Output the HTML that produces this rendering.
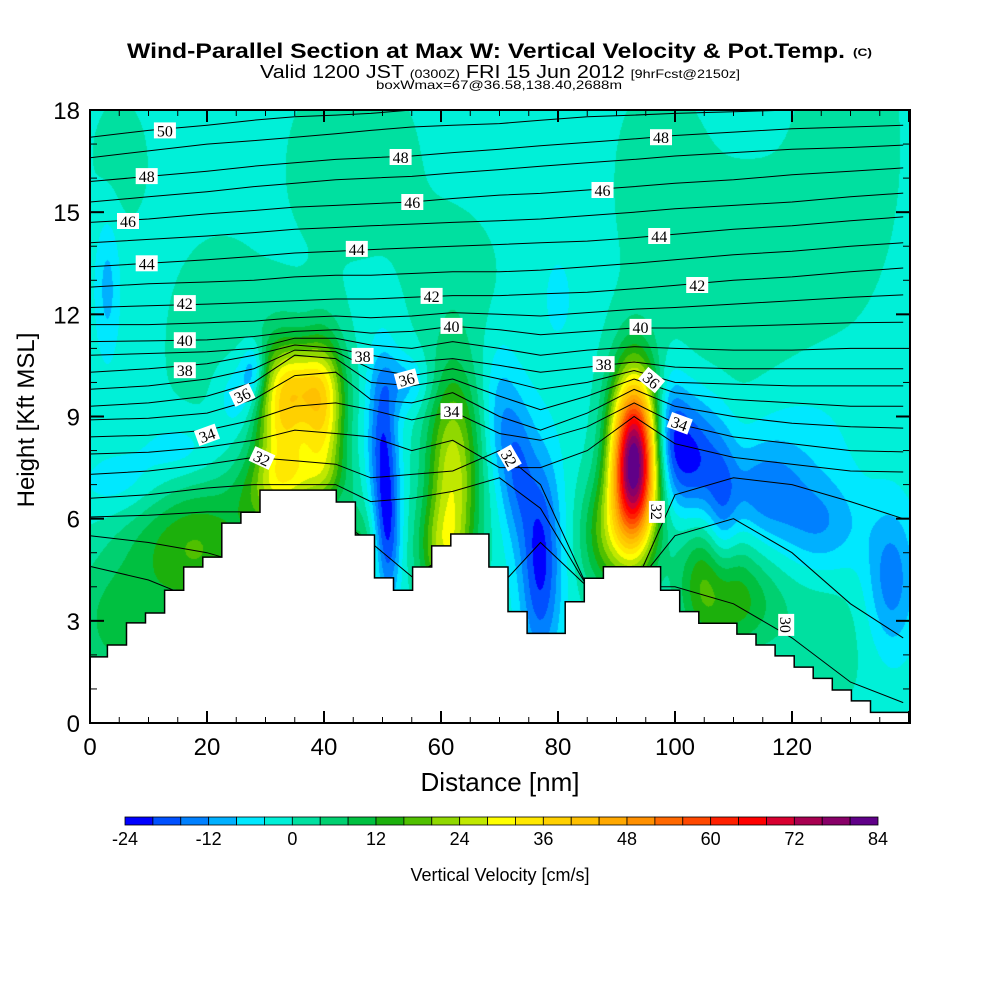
<!DOCTYPE html>
<html><head><meta charset="utf-8">
<style>
html,body{margin:0;padding:0;background:#fff;width:1000px;height:1000px;overflow:hidden}
#wrap{position:relative;width:1000px;height:1000px}
#field{position:absolute;left:90px;top:110px}
#over{position:absolute;left:0;top:0}
text{font-family:"Liberation Sans",sans-serif}
.cl{font-family:"Liberation Serif",serif;font-size:16px}
</style></head>
<body>
<div id="wrap">
<canvas id="field" width="820" height="613"></canvas>
<svg id="over" width="1000" height="1000" xmlns="http://www.w3.org/2000/svg">
<defs><clipPath id="pc"><rect x="90" y="110" width="820" height="613"/></clipPath></defs>
<text x="127" y="58" font-size="21" font-weight="bold" textLength="718" lengthAdjust="spacingAndGlyphs">Wind-Parallel Section at Max W: Vertical Velocity &amp; Pot.Temp.</text>
<text x="853" y="56" font-size="11" font-weight="bold" textLength="19" lengthAdjust="spacingAndGlyphs">(C)</text>
<text x="260" y="78" font-size="18" textLength="480" lengthAdjust="spacingAndGlyphs">Valid 1200 JST <tspan font-size="12">(0300Z)</tspan> FRI 15 Jun 2012 <tspan font-size="12">[9hrFcst@2150z]</tspan></text>
<text x="376" y="89" font-size="12" textLength="246" lengthAdjust="spacingAndGlyphs">boxWmax=67@36.58,138.40,2688m</text>
<g id="contours" clip-path="url(#pc)"></g>
<g id="terrain"></g>
<g id="clabels"></g>
<rect x="90" y="110" width="820" height="613" fill="none" stroke="#000" stroke-width="2"/>
<g id="ticks"></g>
<g id="xlabels"></g>
<g id="ylabels"></g>
<text x="500" y="791" font-size="26" text-anchor="middle">Distance [nm]</text>
<text transform="translate(34,420) rotate(-90)" font-size="24" text-anchor="middle">Height [Kft MSL]</text>
<g id="cbar"></g>
<text x="500" y="881" font-size="18" text-anchor="middle">Vertical Velocity [cm/s]</text>
</svg>
</div>
<script>
// ---- data ----
const xTicks=[0,20,40,60,80,100,120];
const yTicks=[0,3,6,9,12,15,18];
const cbarLabels=[-24,-12,0,12,24,36,48,60,72,84];
const palette=["#0000ff","#0050ff","#0080ff","#00b0ff","#00e8ff","#00f0d8","#00e0a0","#00d070","#00c040","#1cb00c","#50c000","#90d800","#c0e800","#ffff00","#ffe800","#ffd000","#ffc000","#ffa800","#ff9000","#ff6800","#ff4800","#ff2000","#ff0000","#d80030","#a80050","#880068","#600088"];
const wBase=-1.5;
const blobX=[45,62,97,112,130,22,5,3,80,5,16,26,28,6,20,30,12,33,40,36,36,50,51,54,46,62,60,70,77,73,93,88,99,103,108,115,125,137,106,112,125,120];
const blobY=[16.5,13,16,12,17,11,16.5,12.8,12.5,7,8,9.6,10.4,3,5,6.5,5.5,8.8,9.0,10,7.2,8.2,5.5,10,5,7.3,5,9,4.8,7.5,7.6,5.5,8.5,7.8,6,6.8,5.8,4.2,4.2,3.5,2.5,8.5];
const blobAmp=[4,3.5,4,4.5,4,3.5,3,-8,-4,-5,-6,-10,-12,12,14,10,6,33,30,14,10,-17,-15,-8,12,28,14,-8,-20,-12,86,16,-15,-19,-13,-12,-10,-13,18,10,4,-5];
const blobSx=[8,6,5,10,6,7,4,1.5,2,5,5,3,1.5,7,6,4,6,3.5,2.6,4,5,1.8,1.5,3,2,3.2,3,2,2.5,2,2.8,3,2,3,2,5,5,3,4,5,6,8];
const blobSy=[2,1.5,2,3,3,2.5,1.5,1.5,1,0.7,0.7,0.8,0.6,1.5,1.5,0.8,1,1.6,1.6,0.8,0.6,1.8,1.5,0.6,1,2.2,1,1.5,2.2,1.5,1.8,1.2,1.2,1.3,1.8,1,1,1.5,1.4,1,1.5,1.5];
const thetaX=[0,10,20,28,35,42,48,55,62,70,77,85,93,100,110,120,130,139];
const thetaLevels=[28,29,30,31,32,33,34,35,36,37,38,39,40,41,42,43,44,45,46,47,48,49,50];
const thetaH=[
[4.6,4.2,3.5,2.5,-1,-1,-1,-1,-1,-1,-1,-1,-1,-1,-1,-1,-1,-1],
[5.5,5.3,5.0,4.6,3.5,-1,-1,-1,-1,-1,-1,-1,-1,-1,-1,-1,-1,-1],
[6.05,6.1,6.2,6.2,6.1,6.0,5.3,4.3,5.0,4.0,5.3,4.0,4.0,4.0,3.5,2.5,1.2,0.6],
[6.6,6.7,6.9,7.0,7.0,7.0,6.5,6.6,6.8,7.2,6.3,4.0,4.0,5.5,6.0,5.0,3.5,2.5],
[7.3,7.4,7.6,7.8,7.7,7.6,7.2,7.3,7.4,8.0,7.0,4.0,4.0,6.7,7.2,7.0,6.5,6.0],
[7.9,7.95,8.1,8.3,8.6,8.5,8.4,8.0,8.3,7.5,7.5,8.0,9.0,8.2,7.8,7.6,7.4,7.37],
[8.4,8.45,8.6,8.9,9.3,9.4,9.2,8.9,9.15,8.5,8.3,8.7,9.4,8.8,8.4,8.2,8.0,7.96],
[8.9,8.95,9.1,9.5,10.2,10.3,9.5,9.4,9.7,9.0,8.6,9.1,9.8,9.3,9.0,8.8,8.7,8.66],
[9.3,9.4,9.6,10.0,10.8,10.7,10.0,9.9,10.1,9.6,9.2,9.6,10.1,9.7,9.5,9.4,9.3,9.3],
[9.8,9.9,10.1,10.4,10.95,10.9,10.4,10.2,10.4,10.1,9.8,10.0,10.35,10.0,9.95,9.9,9.9,9.9],
[10.3,10.4,10.55,10.8,11.1,11.0,10.8,10.6,10.7,10.5,10.3,10.45,10.6,10.45,10.4,10.4,10.4,10.4],
[10.8,10.85,10.9,11.0,11.3,11.3,11.1,11.0,11.2,11.0,10.8,10.95,11.05,11.0,10.95,10.95,11.0,11.0],
[11.2,11.22,11.25,11.35,11.5,11.55,11.45,11.5,11.65,11.55,11.4,11.5,11.6,11.6,11.65,11.7,11.75,11.77],
[11.7,11.7,11.75,11.8,11.9,11.95,11.9,11.95,12.05,12.0,11.95,12.05,12.15,12.2,12.3,12.4,12.5,12.57],
[12.2,12.25,12.3,12.35,12.4,12.45,12.45,12.5,12.55,12.55,12.6,12.65,12.75,12.85,13.0,13.1,13.25,13.36],
[12.8,12.9,12.95,13.0,13.1,13.15,13.15,13.2,13.25,13.25,13.3,13.4,13.5,13.6,13.75,13.85,14.0,14.1],
[13.4,13.5,13.6,13.7,13.8,13.85,13.9,13.95,14.0,14.05,14.1,14.15,14.25,14.35,14.5,14.6,14.75,14.86],
[14.1,14.2,14.3,14.4,14.5,14.55,14.6,14.65,14.7,14.75,14.8,14.9,15.0,15.1,15.2,15.3,15.45,15.56],
[14.7,14.8,14.95,15.05,15.15,15.2,15.25,15.3,15.4,15.5,15.55,15.65,15.75,15.85,15.95,16.1,16.2,16.3],
[15.3,15.45,15.6,15.75,15.85,15.95,16.0,16.05,16.15,16.25,16.35,16.45,16.55,16.65,16.75,16.85,16.9,16.97],
[15.9,16.05,16.2,16.35,16.45,16.55,16.6,16.65,16.75,16.85,16.95,17.05,17.15,17.25,17.35,17.45,17.5,17.55],
[16.6,16.8,17.0,17.1,17.2,17.3,17.4,17.5,17.55,17.6,17.7,17.8,17.85,17.9,17.95,18.0,18.05,18.1],
[17.2,17.4,17.55,17.7,17.8,17.85,17.9,18.0,18.05,18.1,18.15,18.2,18.25,18.3,18.35,18.4,18.45,18.5]];
const terrainH=[1.94,2.29,2.94,3.23,3.90,4.58,4.87,5.87,6.19,6.84,6.84,6.84,6.84,6.49,5.52,4.26,3.90,4.58,5.20,5.55,5.55,4.58,3.27,2.63,2.63,3.56,4.25,4.59,4.59,4.59,3.90,3.27,2.93,2.93,2.61,2.29,1.97,1.64,1.31,0.97,0.65,0.31,0.31];
const terrainStart=-0.29, terrainStep=3.261;
const labelText=["50","48","46","44","42","40","38","36","34","32","48","46","44","42","40","38","36","34","32","38","40","36","34","32","48","46","44","42","30"];
const labelX=[12.8,9.7,6.5,9.7,16.2,16.2,16.2,26,20,29.4,53.1,55.1,45.6,58.4,61.8,46.6,54.1,61.8,71.7,87.8,94.1,96,100.8,96.9,97.6,87.6,97.3,103.8,119];
const labelY=[17.4,16.06,14.74,13.5,12.33,11.24,10.36,9.63,8.46,7.78,16.62,15.3,13.92,12.54,11.66,10.78,10.1,9.16,7.78,10.54,11.63,10.07,8.8,6.2,17.2,15.65,14.3,12.86,2.88];
const labelRot=[0,0,0,0,0,0,0,-25,-20,25,0,0,0,0,0,0,-15,0,60,0,0,40,20,90,0,0,0,0,90];

// ---- axes ----
const X0=90,X1=910,Y0=723,Y1=110,XMAX=140.17,YMAX=18;
const sx=v=>X0+v*(X1-X0)/XMAX;
const sy=v=>Y0-v*(Y0-Y1)/YMAX;
const NS="http://www.w3.org/2000/svg";
function mk(tag,parent){const e=document.createElementNS(NS,tag);parent.appendChild(e);return e;}

// ---- field ----
(function(){
 const cv=document.getElementById('field');const ctx=cv.getContext('2d');
 const W=cv.width,H=cv.height;const img=ctx.createImageData(W,H);
 const rgb=palette.map(c=>[parseInt(c.substr(1,2),16),parseInt(c.substr(3,2),16),parseInt(c.substr(5,2),16)]);
 for(let py=0;py<H;py++){const ky=(Y0-(Y1+py+0.5))*YMAX/(Y0-Y1);
  for(let px=0;px<W;px++){const nx=(px+0.5)*XMAX/(X1-X0);
   let v=wBase;
   for(let i=0;i<blobX.length;i++){const dx=(nx-blobX[i])/blobSx[i],dy=(ky-blobY[i])/blobSy[i];const r=dx*dx+dy*dy;if(r<25)v+=blobAmp[i]*Math.exp(-0.5*r);}
   let idx=Math.floor((v+24)/4);idx=Math.max(0,Math.min(26,idx));
   const c=rgb[idx];const o=(py*W+px)*4;img.data[o]=c[0];img.data[o+1]=c[1];img.data[o+2]=c[2];img.data[o+3]=255;}}
 ctx.putImageData(img,0,0);
})();

// ---- contours ----
const cg=document.getElementById('contours');
thetaLevels.forEach((lev,i)=>{
 const p=mk('polyline',cg);
 
 
 p.setAttribute('points',thetaX.map((x,j)=>sx(x).toFixed(1)+','+sy(thetaH[i][j]).toFixed(1)).join(' '));
 p.setAttribute('fill','none');p.setAttribute('stroke','#000');p.setAttribute('stroke-width','1');
});

// ---- terrain ----
(function(){
 const tg=document.getElementById('terrain');
 let pts=[[sx(0),sy(0)]];
 terrainH.forEach((h,k)=>{let a=Math.max(0,terrainStart+k*terrainStep),b=Math.min(XMAX,terrainStart+(k+1)*terrainStep);pts.push([sx(a),sy(h)],[sx(b),sy(h)]);});
 pts.push([sx(XMAX),sy(0)]);
 const p=mk('polygon',tg);
 
 
 p.setAttribute('points',pts.map(q=>q[0].toFixed(1)+','+q[1].toFixed(1)).join(' '));
 p.setAttribute('fill','#fff');p.setAttribute('stroke','#000');p.setAttribute('stroke-width','1.5');
})();

// ---- contour labels ----
const lg=document.getElementById('clabels');
labelText.forEach((t,i)=>{
 const g=mk('g',lg);
 
 
 g.setAttribute('transform','translate('+sx(labelX[i]).toFixed(1)+','+sy(labelY[i]).toFixed(1)+') rotate('+labelRot[i]+')');
 const r=mk('rect',g);r.setAttribute('x',-11);r.setAttribute('y',-8);r.setAttribute('width',22);r.setAttribute('height',16);r.setAttribute('fill','#fff');
 const tx=mk('text',g);tx.setAttribute('class','cl');tx.setAttribute('text-anchor','middle');tx.setAttribute('y',6);tx.textContent=t;
});

// ---- ticks ----
const tk=document.getElementById('ticks');
function line(x1,y1,x2,y2,w){const l=mk('line',tk);l.setAttribute('x1',x1);l.setAttribute('y1',y1);l.setAttribute('x2',x2);l.setAttribute('y2',y2);l.setAttribute('stroke','#000');l.setAttribute('stroke-width',w);}
for(let v=0;v<=140;v+=5){const major=v%20===0,x=sx(v),L=major?12:6,w=major?2:1;line(x,Y0,x,Y0-L,w);line(x,Y1,x,Y1+L,w);}
for(let v=0;v<=18;v++){const major=v%3===0,y=sy(v),L=major?14:7,w=major?2:1;line(X0,y,X0+L,y,w);line(X1,y,X1-L,y,w);}
const xl=document.getElementById('xlabels');
xTicks.forEach(v=>{const t=mk('text',xl);
 
 
 t.setAttribute('x',sx(v));t.setAttribute('y',755);t.setAttribute('font-size','24');t.setAttribute('text-anchor','middle');t.textContent=v;});
const yl=document.getElementById('ylabels');
yTicks.forEach(v=>{const t=mk('text',yl);
 
 
 t.setAttribute('x',80);t.setAttribute('y',sy(v)+9);t.setAttribute('font-size','24');t.setAttribute('text-anchor','end');t.textContent=v;});

// ---- colorbar ----
(function(){
 const cb=document.getElementById('cbar');const bx0=125,bx1=878,bw=(bx1-bx0)/palette.length;
 palette.forEach((c,i)=>{const r=mk('rect',cb);
  
  
  r.setAttribute('x',bx0+i*bw);r.setAttribute('y',817);r.setAttribute('width',bw);r.setAttribute('height',8);r.setAttribute('fill',c);r.setAttribute('stroke','#000');r.setAttribute('stroke-width','0.8');});
 cbarLabels.forEach(v=>{const t=mk('text',cb);
  
  
  t.setAttribute('x',bx0+(v+24)/4*bw);t.setAttribute('y',845);t.setAttribute('font-size','18');t.setAttribute('text-anchor','middle');t.textContent=v;});
})();
</script>
</body></html>
